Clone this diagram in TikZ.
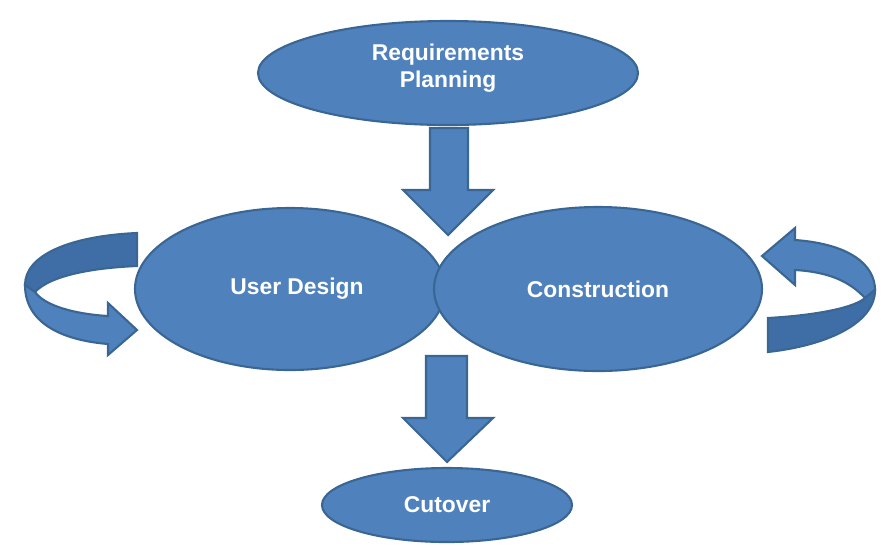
\documentclass[tikz,border=0pt]{standalone}
\usepackage{fontspec}
\setmainfont{Liberation Sans}
\usetikzlibrary{shapes.geometric}
\definecolor{fillb}{HTML}{4F81BD}
\definecolor{lineb}{HTML}{3A6694}
\definecolor{darkb}{HTML}{3F6EA6}
\begin{document}
\begin{tikzpicture}[x=0.02cm,y=-0.02cm,
  shp/.style={fill=fillb,draw=lineb,line width=1.2pt},
  dshp/.style={fill=darkb,draw=lineb,line width=1.2pt},
  lbl/.style={text=white,font=\fontsize{13}{15}\selectfont\bfseries,align=center}]
\useasboundingbox (0,0) rectangle (884,549);
% ellipses
\fill[shp] (448,73) ellipse [x radius=190,y radius=52];
\node[lbl] (req) at (448,68) {Requirements\\Planning};
\fill[shp] (290,289) ellipse [x radius=155,y radius=81];
\fill[shp] (598,289) ellipse [x radius=164,y radius=82];
\node[lbl] (ud) at (297,289) {User Design};
\node[lbl] (con) at (598,289) {Construction};
\fill[shp] (447,505) ellipse [x radius=125,y radius=37];
\node[lbl] (cut) at (447,505) {Cutover};
% down arrows
\filldraw[shp] (430,128) -- (468,128) -- (468,190) -- (493,190) -- (448,235) -- (403,190) -- (430,190) -- cycle;
\filldraw[shp] (426,356) -- (467,356) -- (467,418) -- (493,418) -- (447,462) -- (403,418) -- (426,418) -- cycle;
% left curved arrow
\filldraw[dshp] (137,233) .. controls (70,236) and (25,255) .. (25,285) -- (35,292) .. controls (50,276) and (90,268) .. (137,266) -- cycle;
\filldraw[shp] (25,285) .. controls (25,322) and (60,340) .. (108,344) -- (108,355) -- (137,330) -- (108,303) -- (108,316) .. controls (75,314) and (45,306) .. (35,292) -- cycle;
% right curved arrow
\filldraw[shp] (795,240) .. controls (850,244) and (875,265) .. (875,290) -- (865,298) .. controls (850,282) and (830,272) .. (795,270) -- (795,285) -- (762,256) -- (795,228) -- cycle;
\filldraw[dshp] (875,290) .. controls (875,322) and (830,345) .. (768,352) -- (768,318) .. controls (820,315) and (855,307) .. (865,298) -- cycle;
\end{tikzpicture}
\end{document}
